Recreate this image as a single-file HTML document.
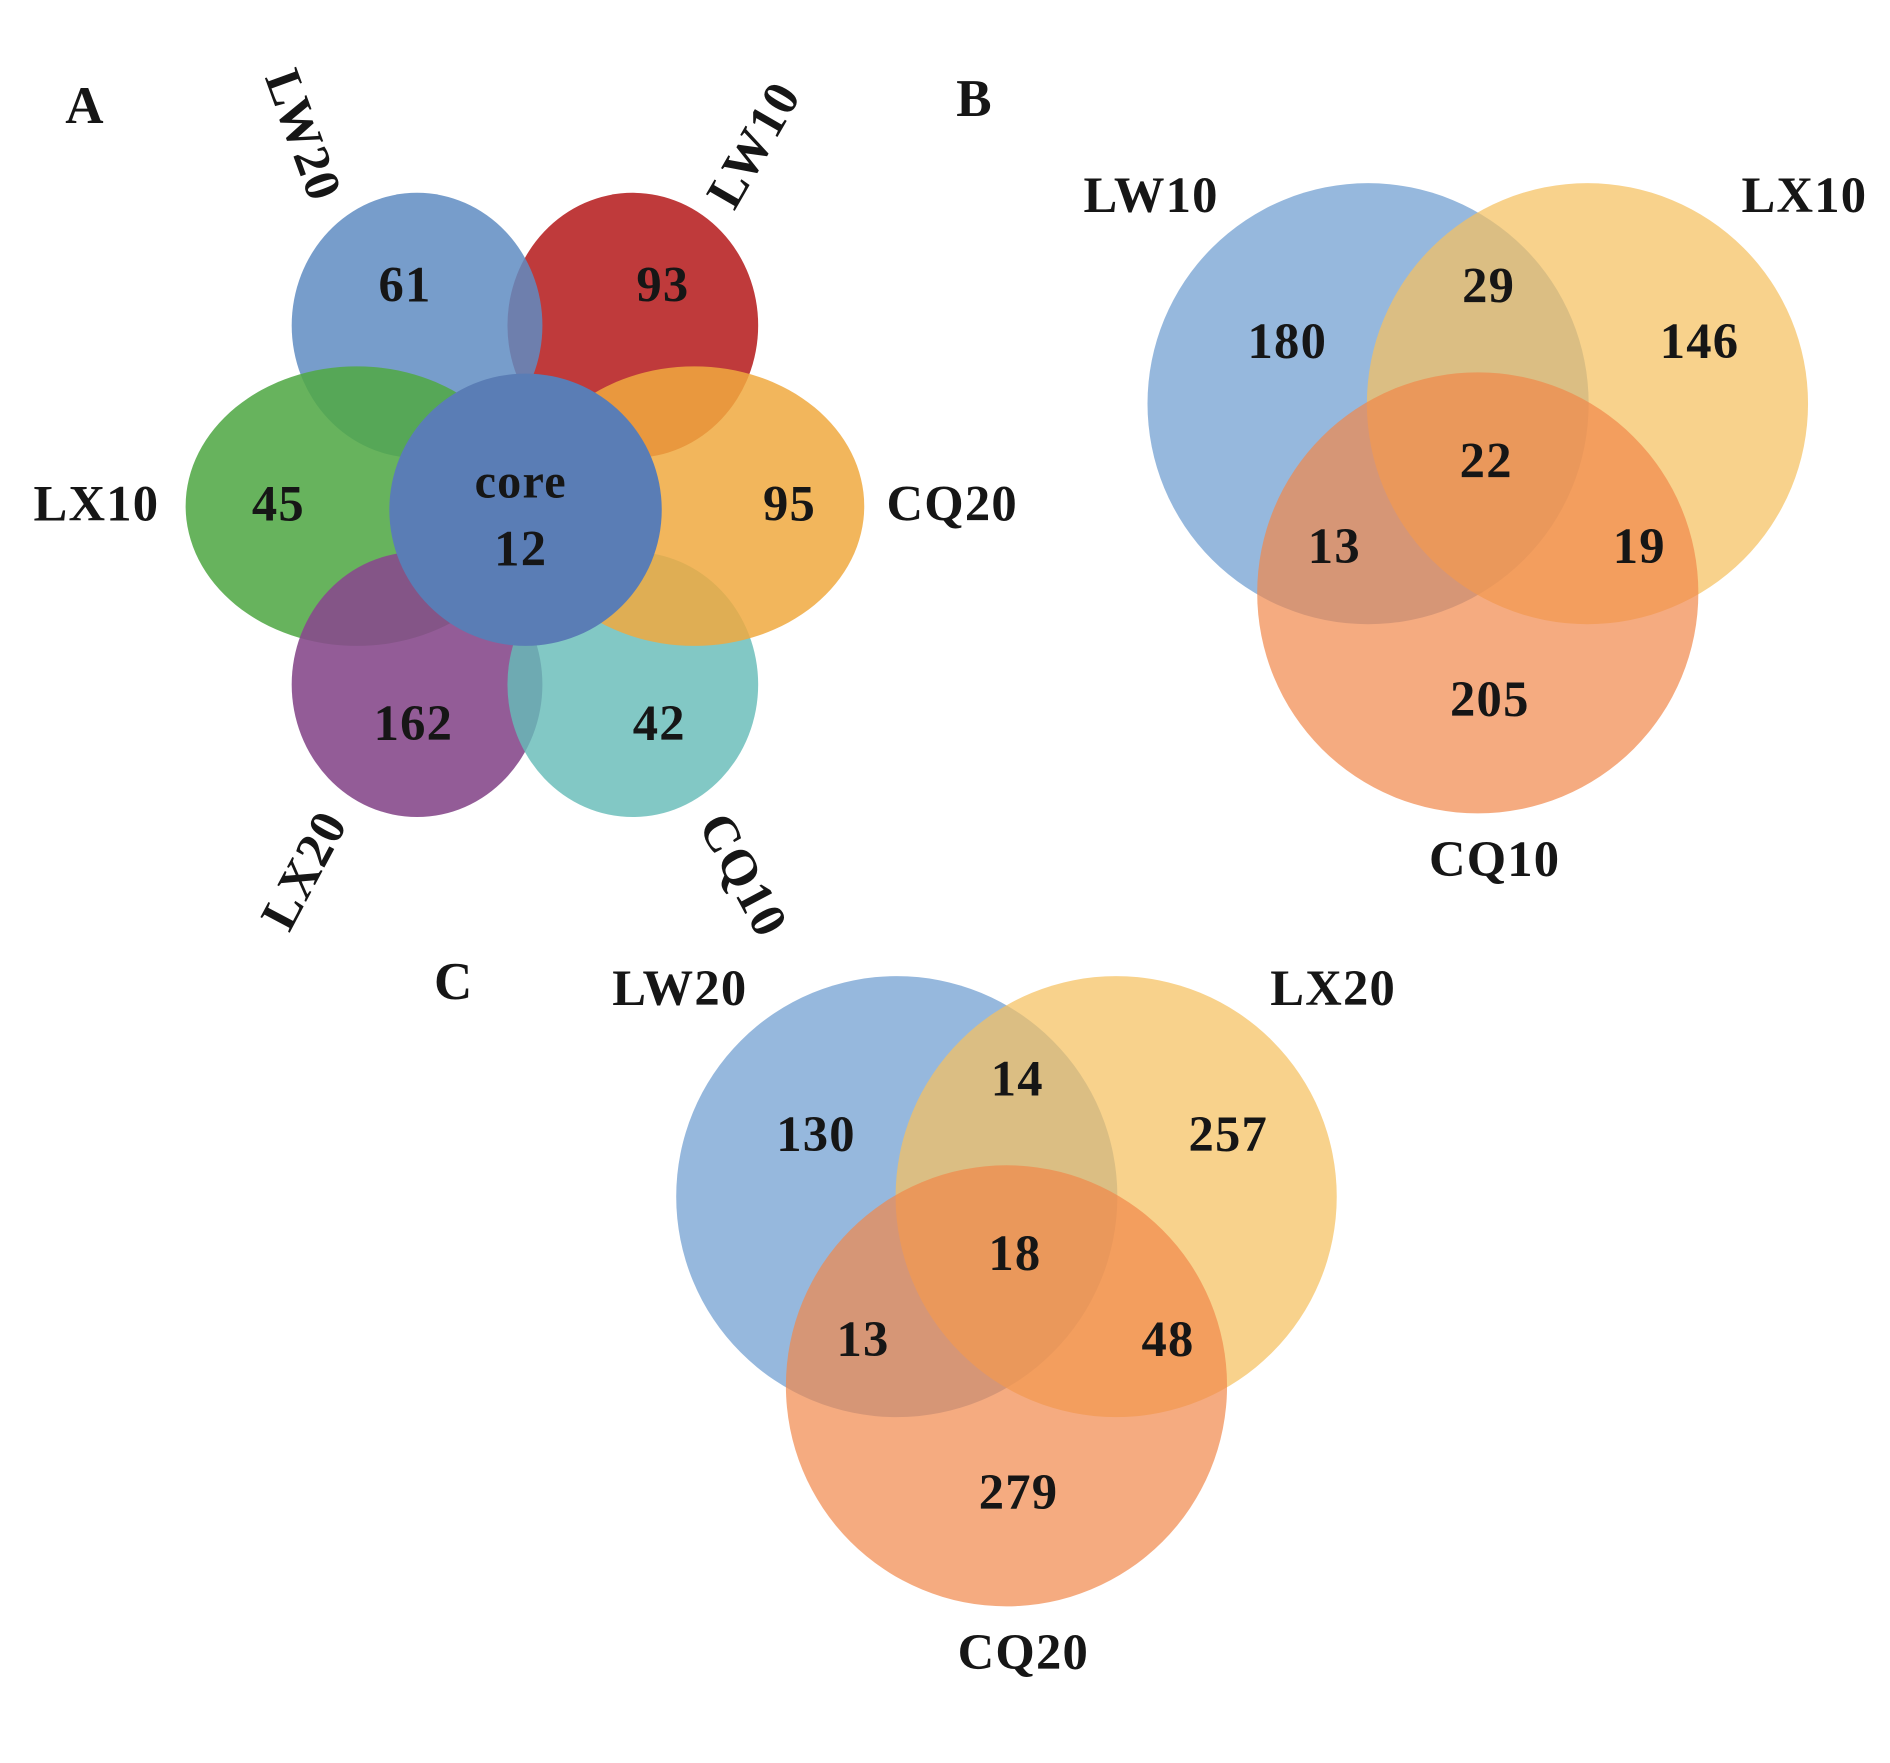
<!DOCTYPE html>
<html><head><meta charset="utf-8"><style>html,body{margin:0;padding:0;background:#fff}svg{display:block}text{font-family:"Liberation Serif",serif;fill:#161616;font-weight:bold}</style></head>
<body>
<svg id="chart" width="1890" height="1763" viewBox="0 0 1568 1463" preserveAspectRatio="none" xmlns="http://www.w3.org/2000/svg">
<g id="pA"></g>
<g id="pB"></g>
<g id="pC"></g>
</svg>
<script>
const NS="http://www.w3.org/2000/svg";
// Panel A data
const petalNames=["LW20","LW10","LX10","CQ20","LX20","CQ10"];
const petalValues=[61,93,45,95,162,42];
const coreValue=12;
// Panel B data
const bSets=["LW10","LX10","CQ10"];
const bValues=[180,29,146,22,13,19,205]; // A only, AB, B only, ABC, AC, BC, C only
// Panel C data
const cSets=["LW20","LX20","CQ20"];
const cValues=[130,14,257,18,13,48,279];

function mk(tag,attrs,parent){const e=document.createElementNS(NS,tag);for(const k in attrs)e.setAttribute(k,attrs[k]);parent.appendChild(e);return e;}
function txt(parent,x,y,s,size,rot){const t=mk("text",{x:x,y:y,"font-size":size,"text-anchor":"middle","dominant-baseline":"central","letter-spacing":1},parent);if(rot)t.setAttribute("transform",`rotate(${rot} ${x} ${y})`);t.textContent=s;return t;}

// Panel A
const A=document.getElementById("pA");
const petals=[
 {cx:346,cy:270,rx:104,ry:110,c:"#5f8cc2",lx:252,ly:112,rot:70,nx:336,ny:236},
 {cx:525,cy:270,rx:104,ry:110,c:"#bf3a3b",lx:625,ly:120,rot:-60,nx:550,ny:236},
 {cx:296,cy:420,rx:142,ry:116,c:"#52a847",lx:80,ly:418,rot:0,nx:231,ny:418},
 {cx:576,cy:420,rx:141,ry:116,c:"#f0a93f",lx:790,ly:418,rot:0,nx:655,ny:418},
 {cx:346,cy:568,rx:104,ry:110,c:"#874a8c",lx:252,ly:722,rot:-62,nx:343,ny:600},
 {cx:525,cy:568,rx:104,ry:110,c:"#66bcb8",lx:617,ly:726,rot:62,nx:547,ny:600}
];
const order=[1,0,2,4,5,3];
const ops=[0.85,1,0.88,0.85,0.9,0.82];
order.forEach(i=>{const p=petals[i];const e=mk("ellipse",{cx:p.cx,cy:p.cy,rx:p.rx,ry:p.ry,fill:p.c,"fill-opacity":ops[i]},A);

});
const core=mk("circle",{cx:436,cy:423,r:113,fill:"#5a7db5"},A);


petals.forEach((p,i)=>{
 const v=txt(A,p.nx,p.ny,String(petalValues[i]),42);
 
 
 const l=txt(A,p.lx,p.ly,petalNames[i],42,p.rot);
 
 
});
const ct=txt(A,432,400,"core",40);
const cv=txt(A,432,455,String(coreValue),42);
const la=mk("text",{x:70,y:88,"font-size":44,"text-anchor":"middle","dominant-baseline":"central"},A);la.textContent="A";


// 3-set venns
function venn3(g,ox,oy,sets,vals,letter,letterPos,prefix){
 const r=183,d=182;
 const circ=[[ox,oy,"#6e9dd0",0.72],[ox+d,oy,"#f5c060",0.72],[ox+d/2,oy+157,"#f1884a",0.7]];
 circ.forEach((c,i)=>{const e=mk("circle",{cx:c[0],cy:c[1],r:r,fill:c[2],"fill-opacity":c[3]},g);
  
  });
 const lp=[[ox-180,oy-173],[ox+d+180,oy-173],[ox+d/2+14,oy+378]];
 lp.forEach((p,i)=>{const t=txt(g,p[0],p[1],sets[i],42);
  
  });
 const np=[[-67,-52],[100,-98],[275,-52],[98,47],[-28,118],[225,118],[101,245]];
 np.forEach((p,i)=>{const t=txt(g,ox+p[0],oy+p[1],String(vals[i]),42);
  
  });
 const L=mk("text",{x:letterPos[0],y:letterPos[1],"font-size":44,"text-anchor":"middle","dominant-baseline":"central"},g);L.textContent=letter;
 
}
venn3(document.getElementById("pB"),1135,335,bSets,bValues,"B",[808,82],"panel-b");
venn3(document.getElementById("pC"),744,993,cSets,cValues,"C",[376,815],"panel-c");
</script>
</body></html>
